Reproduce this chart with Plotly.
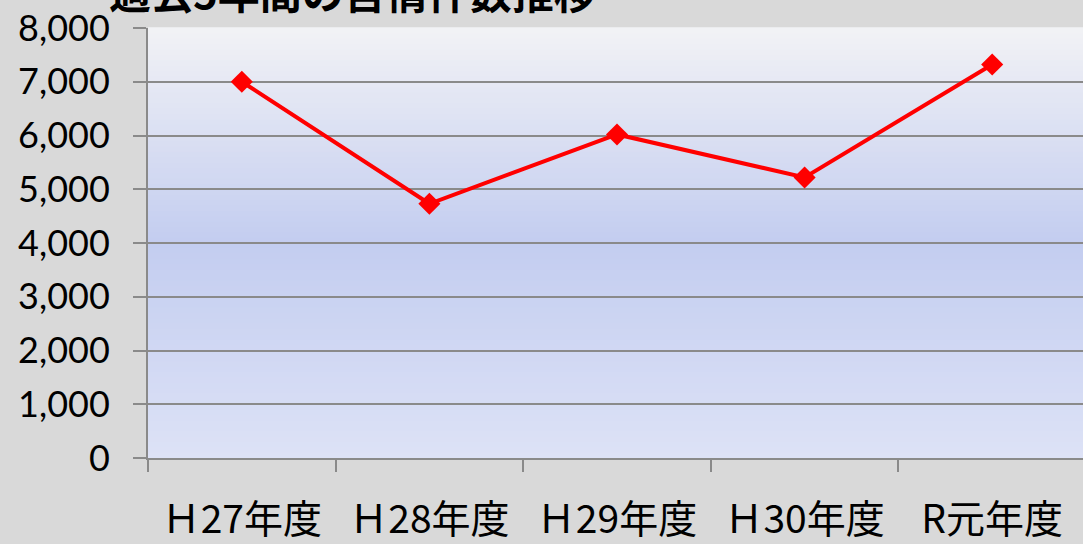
import plotly.graph_objects as go

categories = ["Ｈ27年度", "Ｈ28年度", "Ｈ29年度", "Ｈ30年度", "R元年度"]
values = [7000, 4730, 6020, 5220, 7320]
y_tick_vals = [0, 1000, 2000, 3000, 4000, 5000, 6000, 7000, 8000]
y_tick_text = ["0", "1,000", "2,000", "3,000", "4,000", "5,000", "6,000", "7,000", "8,000"]
title_text = "過去5年間の苦情件数推移"

GRAY = "#8a8a8a"

fig = go.Figure(
    go.Scatter(
        x=categories, y=values, mode="lines+markers",
        line=dict(color="#ff0000", width=4),
        marker=dict(symbol="diamond", size=17, color="#ff0000"),
        cliponaxis=False,
    )
)

# plot-area gradient (style only)
stops = [(0.0, (221, 226, 246)), (0.5, (195, 205, 240)), (1.0, (242, 242, 245))]
def col(t):
    for (t0, c0), (t1, c1) in zip(stops[:-1], stops[1:]):
        if t0 <= t <= t1:
            f = (t - t0) / (t1 - t0)
            return "rgb(%d,%d,%d)" % tuple(round(a + (b - a) * f) for a, b in zip(c0, c1))
    return "rgb(%d,%d,%d)" % stops[-1][1]

n = 80
shapes = []
for i in range(n):
    y0 = i / n
    y1 = (i + 1) / n
    shapes.append(dict(type="rect", xref="x domain", yref="y domain",
                       x0=0, x1=1, y0=y0, y1=y1 + 0.002, layer="below",
                       line=dict(width=0), fillcolor=col((y0 + y1) / 2)))

fig.update_layout(
    width=1083, height=544,
    margin=dict(l=148, r=0, t=28, b=83),
    paper_bgcolor="#d9d9d9",
    plot_bgcolor="rgba(0,0,0,0)",
    showlegend=False,
    shapes=shapes,
    xaxis=dict(
        type="category", range=[-0.5, 4.484],
        tickson="boundaries", ticks="outside", ticklen=12, tickwidth=2, tickcolor=GRAY,
        showline=True, linecolor=GRAY, linewidth=2, showgrid=False,
        tickfont=dict(family="Noto Sans CJK JP", size=39, color="#000000"),
        ticklabelstandoff=26,
    ),
    yaxis=dict(
        range=[0, 8000], tickvals=y_tick_vals, ticktext=y_tick_text,
        ticks="outside", ticklen=13, tickwidth=2, tickcolor=GRAY,
        showline=True, linecolor=GRAY, linewidth=2,
        showgrid=True, gridcolor=GRAY, gridwidth=2,
        zeroline=False,
        tickfont=dict(family="Lato", size=36, color="#000000"),
        ticklabelstandoff=16,
    ),
    annotations=[dict(
        text="<b>" + title_text + "</b>", xref="paper", yref="paper",
        x=(107 - 148) / 935, y=1 + 38 / 433, xanchor="left", yanchor="middle",
        showarrow=False, font=dict(family="Noto Sans CJK JP", size=42, color="#000000"),
    )],
)

fig.write_html(
    "out.html",
    config={"displayModeBar": False},
    post_script="document.body.style.margin='0';document.body.style.overflow='hidden';",
)
